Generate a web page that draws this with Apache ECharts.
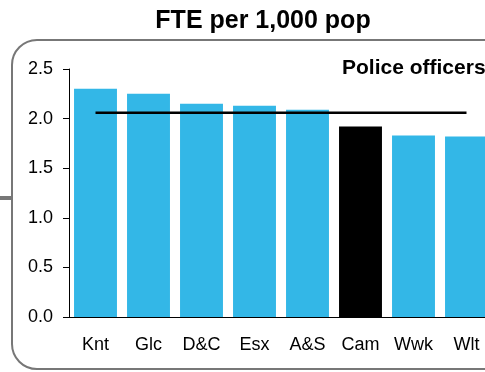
<!DOCTYPE html>
<html><head><meta charset="utf-8">
<script src="https://cdn.jsdelivr.net/npm/echarts@6/dist/echarts.min.js"></script>
<style>html,body{margin:0;padding:0;background:#fff}#c{width:485px;height:372px}</style>
</head><body><div id="c"></div>
<script>
const categories = ['Knt','Glc','D&C','Esx','A&S','Cam','Wwk','Wlt'];
const values = [2.30, 2.25, 2.15, 2.13, 2.09, 1.92, 1.83, 1.82];
const highlight = 'Cam';
const averageValue = 2.06;
const yTicks = [0, 0.5, 1.0, 1.5, 2.0, 2.5];

const chart = echarts.init(document.getElementById('c'), null, {renderer:'canvas'});
const font = 'Liberation Sans, Arial, sans-serif';
chart.setOption({
  animation:false,
  title:{text:'FTE per 1,000 pop', left:258, textAlign:'center', top:4,
    textStyle:{fontFamily:font, fontWeight:'bold', fontSize:25, color:'#000'}},
  graphic:[
    {type:'rect', shape:{x:12, y:40, width:520, height:329, r:25}, style:{fill:'none', stroke:'#777', lineWidth:2}, z:-1},
    {type:'line', shape:{x1:0, y1:198, x2:11, y2:198}, style:{stroke:'#777', lineWidth:4}},
    {type:'text', left:342, top:58, style:{text:'Police officers', font:'bold 21px '+font, fill:'#000'}}
  ],
  grid:{left:69, width:424, top:69, bottom:55, containLabel:false, outerBoundsMode:'none'},
  xAxis:{type:'category', data:categories,
    axisLine:{lineStyle:{color:'#000', width:1}}, axisTick:{show:false},
    axisLabel:{fontFamily:font, fontSize:18, color:'#000', margin:19, interval:0}},
  yAxis:{type:'value', min:0, max:2.5, interval:0.5,
    axisLine:{show:true, lineStyle:{color:'#000', width:1}},
    axisTick:{show:true, length:6, lineStyle:{color:'#000'}},
    splitLine:{show:false},
    axisLabel:{fontFamily:font, fontSize:18, color:'#000', margin:16,
      formatter:v=>v.toFixed(1)}},
  series:[
    {type:'bar', barCategoryGap:'19%',
      data:values.map((v,i)=>({value:v, itemStyle:{color: categories[i]===highlight ? '#000' : '#33b7e7'}}))},
    {type:'line', data:categories.map(()=>averageValue), symbol:'none',
      lineStyle:{color:'#000', width:2.5}, z:5}
  ]
});
</script></body></html>
